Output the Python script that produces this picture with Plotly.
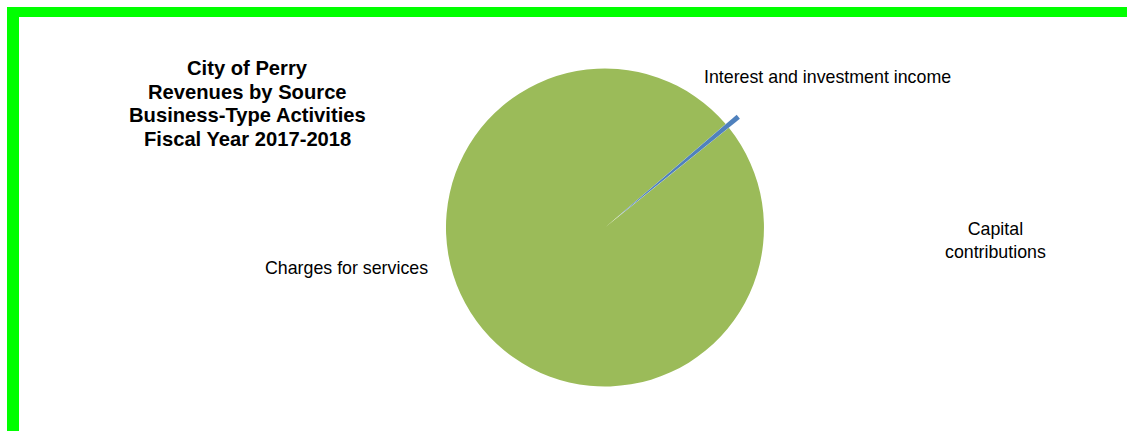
import plotly.graph_objects as go

# ---- data ----
categories = ["Charges for services", "Interest and investment income", "Capital contributions"]
values = [9950000, 50000, 0]
colors = ["#9BBB59", "#4F81BD", "#C0504D"]
pulls = [0, 0.09, 0]
title_lines = ["City of Perry", "Revenues by Source", "Business-Type Activities", "Fiscal Year 2017-2018"]

W, H = 1127, 431

def px(x):
    return x / W

def py(y):
    return 1 - y / H

fig = go.Figure()
fig.add_trace(go.Pie(
    labels=categories,
    values=values,
    marker=dict(colors=colors, line=dict(width=0)),
    pull=pulls,
    sort=False,
    direction="clockwise",
    rotation=51.2,
    textinfo="none",
    hoverinfo="label+value+percent",
    showlegend=False,
    domain=dict(x=[0.3018, 0.7718], y=[0.0701, 0.8743]),
))

FONT = "Liberation Sans, Arial, sans-serif"
annotations = []
title_y = [68, 91.5, 115, 139]
for line, yy in zip(title_lines, title_y):
    annotations.append(dict(text="<b>" + line + "</b>", x=px(247), y=py(yy),
                            xanchor="center", yanchor="middle", align="center",
                            font=dict(family=FONT, size=20.2, color="black")))
annotations += [
    dict(text=categories[0], x=px(263), y=py(268), xanchor="left", yanchor="middle",
         font=dict(family=FONT, size=17.8, color="black")),
    dict(text=categories[1], x=px(702), y=py(77), xanchor="left", yanchor="middle",
         font=dict(family=FONT, size=17.8, color="black")),
    dict(text="Capital<br>contributions", x=px(995), y=py(240), xanchor="center", yanchor="middle",
         align="center", font=dict(family=FONT, size=17.8, color="black")),
]
for a in annotations:
    a.update(xref="paper", yref="paper", showarrow=False)

shapes = [
    dict(type="rect", xref="paper", yref="paper", x0=px(7), x1=1.0, y0=py(17), y1=py(7),
         fillcolor="#00FF00", line=dict(width=0), layer="above"),
    dict(type="rect", xref="paper", yref="paper", x0=px(7), x1=px(19), y0=0.0, y1=py(7),
         fillcolor="#00FF00", line=dict(width=0), layer="above"),
]

fig.update_layout(
    width=W, height=H,
    margin=dict(l=0, r=0, t=0, b=0),
    paper_bgcolor="white", plot_bgcolor="white",
    annotations=annotations,
    shapes=shapes,
    font=dict(family=FONT),
)

fig.write_html("out.html")
